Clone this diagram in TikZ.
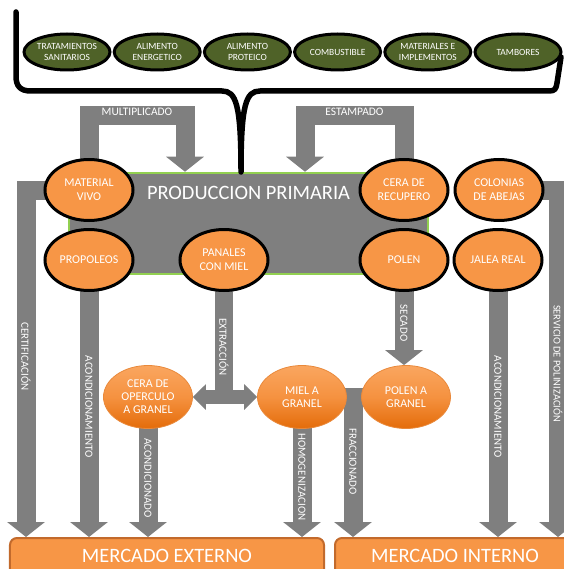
\documentclass[tikz,border=0pt]{standalone}
\usepackage{fontspec}
\setmainfont{Carlito}
\usepackage{tikz}
\usetikzlibrary{positioning}
\usetikzlibrary{arrows.meta}
\usetikzlibrary{shapes.geometric}
\usetikzlibrary{backgrounds}
\definecolor{olivo}{HTML}{4F6228}
\definecolor{naranja}{HTML}{F79646}
\definecolor{naranjaosc}{HTML}{E46C0A}
\definecolor{naranjaclaro}{HTML}{FAA660}
\definecolor{gris}{HTML}{7F7F7F}
\definecolor{verdeborde}{HTML}{92D050}
\definecolor{bordemerc}{HTML}{C26A2C}
\tikzset{
insumo/.style={ellipse, draw=black, line width=3bp, fill=olivo, minimum width=86bp, minimum height=36bp, inner sep=0pt, align=center, text=white, font=\fontsize{9.5}{10.5}\selectfont},
producto/.style={ellipse, draw=black, line width=3bp, fill=naranja, minimum width=88bp, minimum height=61bp, inner sep=0pt, align=center, text=white, font=\fontsize{12}{14}\selectfont},
granel/.style={ellipse, draw=naranjaosc!80, line width=0.8bp, top color=naranjaclaro, bottom color=naranjaosc, middle color=naranja!90!naranjaosc, minimum width=89bp, minimum height=63bp, inner sep=0pt, align=center, text=white, font=\fontsize{12}{13}\selectfont},
prodbox/.style={rectangle, draw=verdeborde, line width=2.5bp, fill=gris, minimum width=359bp, minimum height=101bp},
prodlab/.style={text=white, inner sep=0pt, font=\fontsize{20.5}{24}\selectfont},
mercado/.style={rectangle, rounded corners=7bp, draw=bordemerc, line width=2bp, fill=naranja, text=white, anchor=north, minimum width=314bp, text height=13bp, text depth=30bp, inner ysep=11bp, font=\fontsize{20.5}{24}\selectfont},
llave/.style={draw=black, line width=5.5bp, line cap=round, line join=round},
flow/.style={draw=gris, line width=19bp, line join=miter, -{Triangle[length=15bp,width=37bp]}},
bar/.style={draw=gris, line width=18bp},
twoway/.style={draw=gris, line width=14bp, {Triangle[length=13bp,width=25bp]}-{Triangle[length=13bp,width=25bp]}},
hlab/.style={text=white, inner sep=0pt, yshift=4bp, font=\fontsize{11.5}{13}\selectfont},
vlab/.style={text=white, inner sep=0pt, rotate=-90, font=\fontsize{11}{12}\selectfont}
}
\begin{document}
\begin{tikzpicture}[x=1bp,y=-1bp]
\useasboundingbox (0,0) rectangle (564,569);
\node[prodbox] (prod) at (248.5,223.5) {};
\node[prodlab, below=14bp of prod.north] (prodtxt) {PRODUCCION PRIMARIA};
\draw[llave] (16,12) -- (16,76) .. controls (16,86) and (20,91) .. (31,91) -- (222,91)
  .. controls (236,91) and (241,104) .. (241,172) .. controls (241,104) and (246,91) .. (260,91)
  -- (549,91) .. controls (555,91) and (556,89) .. (557,83) -- (561,57);
\foreach \nm/\txt [count=\i] in {trat/{TRATAMIENTOS\\SANITARIOS}, aliene/{ALIMENTO\\ENERGETICO}, alipro/{ALIMENTO\\PROTEICO}, comb/{COMBUSTIBLE}, mater/{MATERIALES E\\IMPLEMENTOS}, tamb/{TAMBORES}} {
\node[insumo] (\nm) at ({67+90.2*(\i-1)},52) {\txt};
}
\node[producto] (matviv) at (89,190) {MATERIAL\\VIVO};
\node[producto] (prop) at (89,260) {PROPOLEOS};
\node[producto] (panal) at (224,260) {PANALES\\CON MIEL};
\node[producto] (cerarec) at (404,190) {CERA DE\\RECUPERO};
\node[producto] (colon) at (499,190) {COLONIAS\\DE ABEJAS};
\node[producto] (polen) at (404,260) {POLEN};
\node[producto] (jalea) at (498,260) {JALEA REAL};
\node[granel] (cerop) at (148,397) {CERA DE\\OPERCULO\\A GRANEL};
\node[granel] (mielg) at (302,397) {MIEL A\\GRANEL};
\node[granel] (polg) at (406,397) {POLEN A\\GRANEL};
\node[mercado] (mext) at (167,537) {MERCADO EXTERNO};
\node[mercado, minimum width=240bp] (mint) at (455,537) {MERCADO INTERNO};
\begin{scope}[on background layer]
\draw[flow] (matviv.center) -- (89,116) -- node[hlab] (lmult) {MULTIPLICADO} (185,116) -- (185,116 |- prod.north);
\draw[flow] (cerarec.center) -- (404,116) -- node[hlab] (lestamp) {ESTAMPADO} (305,116) -- (305,116 |- prod.north);
\draw[flow] (matviv.center) -| node[vlab, pos=0.74] (lcert) {CERTIFICACIÓN} (26,190 |- mext.north);
\draw[flow] (prop.center) -- node[vlab, pos=0.53] (lacond1) {ACONDICIONAMIENTO} (prop.center |- mext.north);
\draw[bar] (panal.center) -- node[vlab, pos=0.635] (lextr) {EXTRACCIÓN} (panal.center |- cerop.center);
\draw[twoway] (cerop) -- (mielg);
\draw[flow] (polen.center) -- node[vlab, pos=0.6] (lsec) {SECADO} (polen.center |- polg.north);
\draw[flow] (jalea.center) -- node[vlab, pos=0.53] (lacond2) {ACONDICIONAMIENTO} (jalea.center |- mint.north);
\draw[flow] (colon.center) -| node[vlab, pos=0.75, font=\fontsize{10.5}{12}\selectfont] (lserv) {SERVICIO DE POLINIZACIÓN} (558,190 |- mint.north);
\draw[flow] (cerop.center) -- node[vlab, pos=0.58] (lacond3) {ACONDICIONADO} (cerop.center |- mext.north);
\draw[flow] (mielg.center) -- node[vlab, pos=0.57] (lhomog) {HOMOGENIZACION} (mielg.center |- mext.north);
\draw[flow] (polg.center) -| node[vlab, pos=0.73] (lfracc) {FRACCIONADO} (353,397 |- mint.north);
\end{scope}
\end{tikzpicture}
\end{document}
